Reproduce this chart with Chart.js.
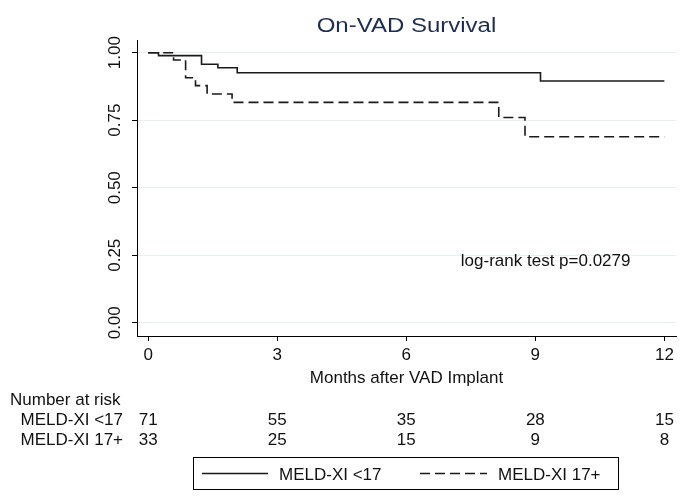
<!DOCTYPE html>
<html>
<head>
<meta charset="utf-8">
<script src="https://cdn.jsdelivr.net/npm/chart.js@4.4.1/dist/chart.umd.min.js"></script>
<style>
  html, body { margin: 0; padding: 0; background: #fff; }
  #wrap { width: 689px; height: 503px; position: relative; }
</style>
</head>
<body>
<div id="wrap"><canvas id="km"></canvas></div>
<script>
// Kaplan-Meier steps (months after implant, survival)
const lowTimes = [0, 0.24, 1.24, 1.62, 2.07, 9.12, 12];
const lowSurv = [1, 0.989, 0.957, 0.944, 0.926, 0.895, 0.895];
const highTimes = [0, 0.59, 0.87, 1.10, 1.37, 1.95, 8.15, 8.76, 12];
const highSurv = [1, 0.973, 0.907, 0.878, 0.847, 0.816, 0.760, 0.689, 0.689];

const groupNames = ['MELD-XI <17', 'MELD-XI 17+'];
const xTicks = [0, 3, 6, 9, 12];
const yTicks = [0, 0.25, 0.5, 0.75, 1];
const yTickLabels = ['0.00', '0.25', '0.50', '0.75', '1.00'];
const riskLow = [71, 55, 35, 28, 15];
const riskHigh = [33, 25, 15, 9, 8];
const titleText = 'On-VAD Survival';
const xTitle = 'Months after VAD Implant';
const pText = 'log-rank test p=0.0279';

const FONT = "'Liberation Sans', Arial, sans-serif";
const INK = '#111';

function toPoints(times, surv) {
    return times.map((t, i) => ({ x: t, y: surv[i] }));
}

// Draws the Stata-style extras: title, rotated y labels, risk table, legend box
const stataExtras = {
    id: 'stataExtras',
    afterDraw(chart) {
        const ctx = chart.ctx;
        const xs = chart.scales.x;
        const ys = chart.scales.y;
        const area = chart.chartArea;
        ctx.save();
        ctx.fillStyle = INK;

        // title, drawn a little wide like the original
        ctx.save();
        ctx.font = '20px ' + FONT;
        ctx.fillStyle = '#1e2d4f';
        ctx.textAlign = 'center';
        ctx.textBaseline = 'alphabetic';
        ctx.translate((area.left + area.right) / 2, 31.5);
        ctx.scale(1.2, 1);
        ctx.fillText(titleText, 0, 0);
        ctx.restore();

        // y tick labels, rotated
        ctx.font = '17px ' + FONT;
        yTicks.forEach((v, i) => {
            ctx.save();
            ctx.translate(115, ys.getPixelForValue(v));
            ctx.rotate(-Math.PI / 2);
            ctx.textAlign = 'center';
            ctx.textBaseline = 'middle';
            ctx.fillText(yTickLabels[i], 0, 0);
            ctx.restore();
        });

        // axis title
        ctx.textAlign = 'center';
        ctx.textBaseline = 'alphabetic';
        ctx.fillText(xTitle, (area.left + area.right) / 2, 382.5);

        // log-rank annotation
        ctx.fillText(pText, xs.getPixelForValue(9.24), ys.getPixelForValue(0.21));

        // number at risk table
        ctx.textAlign = 'left';
        ctx.fillText('Number at risk', 10, 404.5);
        const rows = [riskLow, riskHigh];
        const rowBase = [425, 444.5];
        rows.forEach((row, r) => {
            ctx.textAlign = 'left';
            ctx.fillText(groupNames[r], 20.5, rowBase[r]);
            ctx.textAlign = 'center';
            row.forEach((n, i) => {
                ctx.fillText(String(n), xs.getPixelForValue(xTicks[i]), rowBase[r]);
            });
        });

        // legend box
        ctx.strokeStyle = '#000';
        ctx.lineWidth = 1;
        ctx.strokeRect(193.5, 457.5, 425, 32);
        const ly = 473.5;
        const samples = [[202, 268, 279], [420, 487, 498]];
        chart.data.datasets.forEach((ds, i) => {
            const [a, b, tx] = samples[i];
            ctx.beginPath();
            ctx.setLineDash(ds.borderDash || []);
            ctx.lineWidth = ds.borderWidth;
            ctx.strokeStyle = ds.borderColor;
            ctx.moveTo(a, ly);
            ctx.lineTo(b, ly);
            ctx.stroke();
            ctx.setLineDash([]);
            ctx.textAlign = 'left';
            ctx.fillText(ds.label, tx, 479.5);
        });
        ctx.restore();
    }
};

new Chart(document.getElementById('km'), {
    type: 'scatter',
    data: {
        datasets: [
            {
                label: groupNames[0],
                data: toPoints(lowTimes, lowSurv),
                showLine: true,
                stepped: true,
                borderColor: '#1a1a1a',
                borderWidth: 1.6,
                pointRadius: 0
            },
            {
                label: groupNames[1],
                data: toPoints(highTimes, highSurv),
                showLine: true,
                stepped: true,
                borderColor: '#1a1a1a',
                borderWidth: 1.6,
                borderDash: [10, 5],
                pointRadius: 0
            }
        ]
    },
    options: {
        responsive: true,
        maintainAspectRatio: false,
        animation: false,
        layout: { padding: { left: 0, top: 40, right: 13, bottom: 0 } },
        plugins: {
            legend: { display: false },
            tooltip: { enabled: false }
        },
        scales: {
            x: {
                type: 'linear',
                min: -0.26,
                max: 12.27,
                afterBuildTicks: s => { s.ticks = xTicks.map(v => ({ value: v })); },
                afterFit: s => { s.height = 167; },
                ticks: {
                    color: INK,
                    font: { family: FONT, size: 17 },
                    padding: 4,
                    maxRotation: 0
                },
                grid: { drawOnChartArea: false, tickColor: '#000', tickLength: 5 },
                border: { color: '#000', width: 1 }
            },
            y: {
                min: -0.049,
                max: 1.047,
                afterBuildTicks: s => { s.ticks = yTicks.map(v => ({ value: v })); },
                afterFit: s => { s.width = 137; },
                ticks: { display: false },
                grid: { color: '#e6eff1', tickColor: '#000', tickLength: 5 },
                border: { color: '#000', width: 1 }
            }
        }
    },
    plugins: [stataExtras]
});
</script>
</body>
</html>
